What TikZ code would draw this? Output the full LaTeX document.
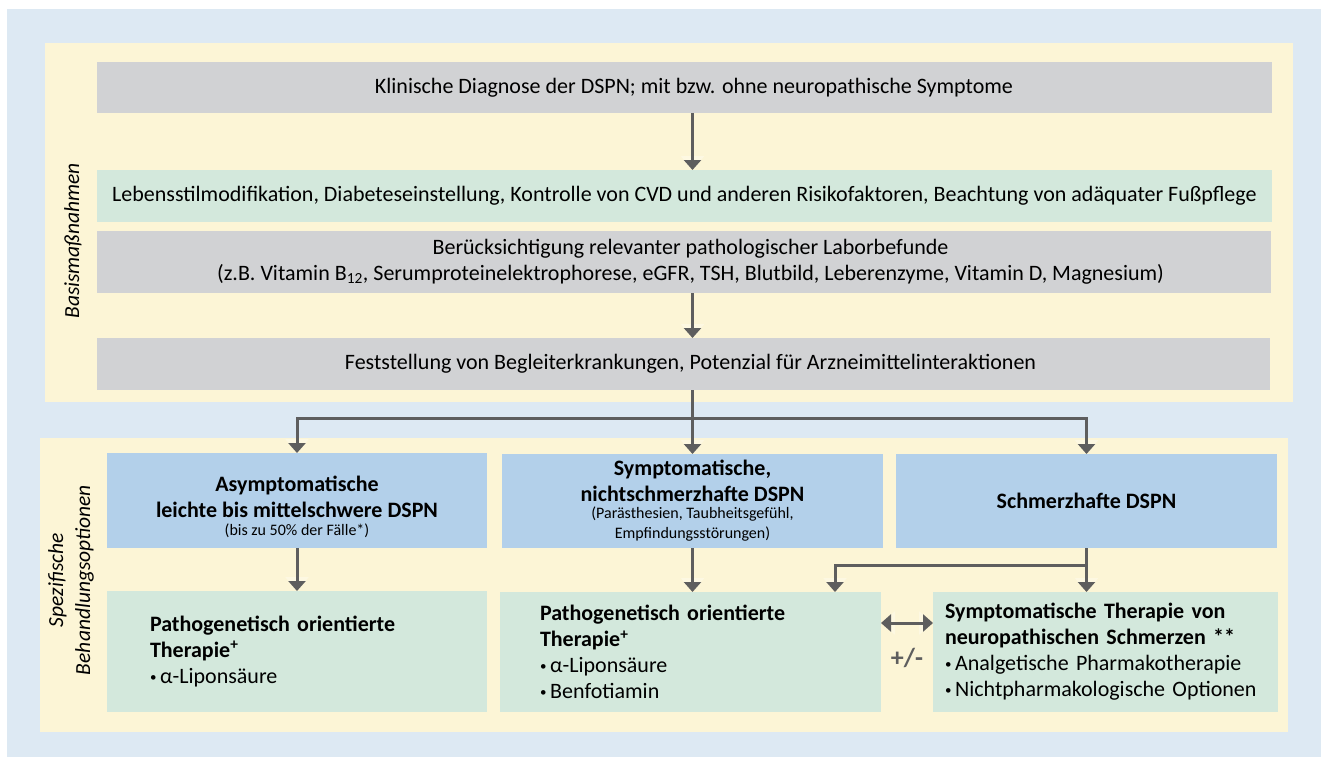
\documentclass[tikz,border=0pt]{standalone}
\usepackage{fontspec}
\setmainfont{Carlito}
\usetikzlibrary{arrows.meta}
\definecolor{bgblue}{HTML}{DDE9F3}
\definecolor{panel}{HTML}{FCF5D6}
\definecolor{boxgray}{HTML}{D1D2D4}
\definecolor{boxgreen}{HTML}{D3E8DC}
\definecolor{boxblue}{HTML}{B3D0EA}
\definecolor{arrowgray}{HTML}{5E5E5E}
\definecolor{halo}{HTML}{FDF8E2}
\newcommand{\kleintext}{\fontsize{16}{19}\selectfont\mdseries}
\newcommand{\punkt}{\raisebox{0.2ex}{\fontsize{13}{13}\selectfont•}\,}
\begin{document}
\begin{tikzpicture}[x=1pt,y=-1pt,
  box/.style={anchor=north west,inner sep=0pt,outer sep=0pt,align=center,
    font=\fontsize{22}{26}\selectfont},
  graybox/.style={box,fill=boxgray},
  greenbox/.style={box,fill=boxgreen},
  bluebox/.style={box,fill=boxblue,font=\fontsize{22}{26}\selectfont\bfseries},
  therabox/.style={box,fill=boxgreen,align=left},
  spitze/.tip={Triangle[width=17pt,length=10pt]},
  rand/.tip={Triangle[width=23pt,length=14pt]},
  pfeil/.style={draw=arrowgray,line width=3pt,-spitze,
    preaction={draw=halo,line width=3pt,-rand}},
  doppelpfeil/.style={draw=arrowgray,line width=3pt,spitze-spitze,
    preaction={draw=halo,line width=3pt,rand-rand}},
  seite/.style={rotate=90,align=center,font=\fontsize{21.5}{27}\selectfont\itshape}]
  \useasboundingbox (0,0) rectangle (1321,757);
  \fill[bgblue] (7,9) rectangle (1321,757);
  \fill[panel] (45,43) rectangle (1293,402);
  \fill[panel] (40,438) rectangle (1288,732);

  \node[seite] (basis) at (73,241) {Basismaßnahmen};
  \node[seite] (spez) at (71,580) {Spezifische\\Behandlungsoptionen};

  % Basismassnahmen
  \node[graybox,minimum width=1175pt,minimum height=51pt] (klin) at (97,62)
    {\hspace*{19pt}Klinische Diagnose der DSPN; mit bzw. ohne neuropathische Symptome};
  \node[greenbox,minimum width=1175pt,minimum height=52pt] (leben) at (97,170)
    {Lebensstilmodifikation, Diabeteseinstellung, Kontrolle von CVD und anderen Risikofaktoren, Beachtung von adäquater Fußpflege};
  \node[graybox,minimum width=1174pt,minimum height=62pt] (labor) at (97,231)
    {\hspace*{13pt}Berücksichtigung relevanter pathologischer Laborbefunde\\
     \hspace*{13pt}(z.B. Vitamin B\textsubscript{12}, Serumproteinelektrophorese, eGFR, TSH, Blutbild, Leberenzyme, Vitamin D, Magnesium)};
  \node[graybox,minimum width=1173pt,minimum height=52pt] (fest) at (97,338)
    {\hspace*{14pt}Feststellung von Begleiterkrankungen, Potenzial für Arzneimittelinteraktionen};

  % Behandlungsoptionen
  \node[bluebox,minimum width=380pt,minimum height=95pt] (asym) at (107,453)
    {\rule{0pt}{28pt}Asymptomatische\\leichte bis mittelschwere DSPN\\[-8pt]\kleintext (bis zu 50\% der Fälle*)};
  \node[bluebox,minimum width=381pt,minimum height=94pt] (symp) at (502,454)
    {Symptomatische,\\nichtschmerzhafte DSPN\\[-9pt]\kleintext (Parästhesien, Taubheitsgefühl,\\[-6pt]\kleintext Empfindungsstörungen)};
  \node[bluebox,minimum width=381pt,minimum height=94pt] (schm) at (896,454)
    {Schmerzhafte DSPN};

  \node[therabox,minimum height=121pt,inner xsep=43pt,text width=294pt] (therA) at (107,591)
    {\textbf{Pathogenetisch orientierte}\\\textbf{Therapie\textsuperscript{+}}\\\punkt α-Liponsäure};
  \node[therabox,minimum height=120pt,inner xsep=40pt,text width=301pt] (therB) at (500,592)
    {\textbf{Pathogenetisch orientierte}\\\textbf{Therapie\textsuperscript{+}}\\\punkt α-Liponsäure\\\punkt Benfotiamin};
  \node[therabox,minimum height=120pt,inner xsep=12pt,text width=321pt] (therC) at (933,592)
    {\textbf{Symptomatische Therapie von}\\\textbf{neuropathischen Schmerzen **}\\\punkt Analgetische Pharmakotherapie\\\punkt Nichtpharmakologische Optionen};

  \coordinate (verz) at (symp.north |- 0,418);
  \coordinate (abzw) at (schm.south |- 0,565);
  \coordinate (links) at (835,565);

  \draw[pfeil] (klin.south -| symp.north) -- (leben.north -| symp.north);
  \draw[pfeil] (labor.south -| symp.north) -- (fest.north -| symp.north);
  \draw[line width=3pt,arrowgray] (fest.south -| symp.north) -- (verz);
  \draw[pfeil] (verz) -| (asym.north);
  \draw[pfeil] (verz) -- (symp.north);
  \draw[pfeil] (verz) -| (schm.north);
  \draw[pfeil] (asym.south) -- (therA.north -| asym.south);
  \draw[pfeil] (symp.south) -- (therB.north -| symp.south);
  \draw[pfeil] (schm.south) -- (therC.north -| schm.south);
  \draw[pfeil] (abzw) -| (links |- therB.north);
  \draw[doppelpfeil] (therB.east |- 0,623) -- (therC.west |- 0,623);
  \node[font=\fontsize{26}{28}\selectfont\bfseries,text=arrowgray] (plusminus) at (907,658) {+/-};
\end{tikzpicture}
\end{document}
